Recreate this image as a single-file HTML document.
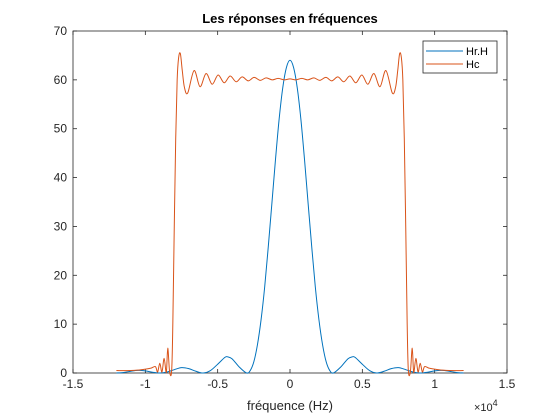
<!DOCTYPE html>
<html><head><meta charset="utf-8"><style>
html,body{margin:0;padding:0;background:#fff;}
svg{display:block;font-family:"Liberation Sans",sans-serif;}
</style></head><body>
<svg id="chart" width="560" height="420" viewBox="0 0 560 420" xmlns="http://www.w3.org/2000/svg">
<rect x="0" y="0" width="560" height="420" fill="#fff"/>
<text x="290" y="23" text-anchor="middle" font-size="13" font-weight="bold" fill="#000">Les réponses en fréquences</text>
<g id="plot"></g>
<text x="290" y="410" text-anchor="middle" font-size="13" fill="#262626">fréquence (Hz)</text>
<text x="474" y="411" font-size="11" fill="#262626">×10<tspan dy="-5" font-size="9">4</tspan></text>
<g>
<rect x="423" y="41" width="74" height="32" fill="#fff" stroke="#262626" stroke-width="0.8"/>
<line x1="426" y1="51" x2="463" y2="51" stroke="#0072BD" stroke-width="1"/>
<text x="466" y="55" font-size="11" fill="#000">Hr.H</text>
<line x1="426" y1="64" x2="463" y2="64" stroke="#D95319" stroke-width="1"/>
<text x="466" y="68" font-size="11" fill="#000">Hc</text>
</g>
</svg>
<script>
const xTicks = [-1.5,-1,-0.5,0,0.5,1,1.5];
const xTickLabels = ["-1.5","-1","-0.5","0","0.5","1","1.5"];
const yTicks = [0,10,20,30,40,50,60,70];
const yTickLabels = ["0","10","20","30","40","50","60","70"];
const hrhF = [-1.2,-1.15,-1.1,-1.05,-1,-0.95,-0.9,-0.85,-0.8,-0.75,-0.7,-0.65,-0.6,-0.55,-0.5,-0.45,-0.43,-0.4,-0.35,-0.3,-0.275,-0.25,-0.225,-0.2,-0.175,-0.15,-0.125,-0.1,-0.075,-0.05,-0.025,0,0.025,0.05,0.075,0.1,0.125,0.15,0.175,0.2,0.225,0.25,0.275,0.3,0.35,0.4,0.43,0.45,0.5,0.55,0.6,0.65,0.7,0.75,0.8,0.85,0.9,0.95,1,1.05,1.1,1.15,1.2];
const hrhV = [0,0.11,0.36,0.53,0.44,0.16,0,0.2,0.68,1.1,0.9,0.35,0,0.5,1.8,3.2,3.3,2.9,1.2,0,0.5,2.3,5.8,10.9,17.6,25.9,34.8,43.8,52,58.4,62.5,64,62.5,58.4,52,43.8,34.8,25.9,17.6,10.9,5.8,2.3,0.5,0,1.2,2.9,3.3,3.2,1.8,0.5,0,0.35,0.9,1.1,0.68,0.2,0,0.16,0.44,0.53,0.36,0.11,0];
const hcF = [-1.2,-1.1,-1.05,-1.0,-0.96,-0.93,-0.915,-0.9,-0.885,-0.87,-0.855,-0.845,-0.832,-0.818,-0.81,-0.8,-0.79,-0.78,-0.77,-0.758,-0.745,-0.73,-0.707,-0.663,-0.622,-0.58,-0.538,-0.497,-0.455,-0.414,-0.372,-0.331,-0.289,-0.248,-0.206,-0.165,-0.123,-0.082,-0.04,0,0.04,0.082,0.123,0.165,0.206,0.248,0.289,0.331,0.372,0.414,0.455,0.497,0.538,0.58,0.622,0.663,0.707,0.73,0.745,0.758,0.77,0.78,0.79,0.8,0.81,0.818,0.832,0.845,0.855,0.87,0.885,0.9,0.915,0.93,0.96,1.0,1.05,1.1,1.2];
const hcV = [0.5,0.5,0.6,0.8,1.0,1.3,0.2,2.0,0.2,3.0,0.1,5.1,0.2,0.5,10,30,48,60,64.5,65.4,62,58.5,57.3,61.9,58.6,61.3,59.1,61.0,59.4,60.8,59.6,60.6,59.8,60.5,59.9,60.4,60.0,60.3,60.0,60.2,60.0,60.3,60.0,60.4,59.9,60.5,59.8,60.6,59.6,60.8,59.4,61.0,59.1,61.3,58.6,61.9,57.3,58.5,62,65.4,64.5,60,48,30,10,0.5,0.2,5.1,0.1,3.0,0.2,2.0,0.2,1.3,1.0,0.8,0.6,0.5,0.5];

const L=73,R=507,T=31,B=373;
const X=v=>L+(v+1.5)/3*(R-L);
const Y=v=>B-v/70*(B-T);
const NS="http://www.w3.org/2000/svg";
const g=document.getElementById('plot');
function mk(tag,attrs){const e=document.createElementNS(NS,tag);for(const k in attrs)e.setAttribute(k,attrs[k]);g.appendChild(e);return e;}

const box=mk('rect',{x:L,y:T,width:R-L,height:B-T,fill:'#fff',stroke:'#262626','stroke-width':0.8});



xTicks.forEach((t,i)=>{
  const x=X(t);
  const a=mk('line',{x1:x,y1:B,x2:x,y2:B-4,stroke:'#262626','stroke-width':0.8});
  
  
  const b=mk('line',{x1:x,y1:T,x2:x,y2:T+4,stroke:'#262626','stroke-width':0.8});
  
  
  const tx=mk('text',{x:x,y:B+15,'text-anchor':'middle','font-size':12,fill:'#262626'});
  tx.textContent=xTickLabels[i];
  
  
});
yTicks.forEach((t,i)=>{
  const y=Y(t);
  const a=mk('line',{x1:L,y1:y,x2:L+4,y2:y,stroke:'#262626','stroke-width':0.8});
  
  
  const b=mk('line',{x1:R,y1:y,x2:R-4,y2:y,stroke:'#262626','stroke-width':0.8});
  
  
  const tx=mk('text',{x:L-6,y:y+4,'text-anchor':'end','font-size':12,fill:'#262626'});
  tx.textContent=yTickLabels[i];
  
  
});

function series(F,V,color,name){
  const P=F.map((f,i)=>[X(f),Y(V[i])]);
  let d='M'+P[0][0].toFixed(2)+' '+P[0][1].toFixed(2);
  for(let i=0;i<P.length-1;i++){
    const p0=P[Math.max(0,i-1)],p1=P[i],p2=P[i+1],p3=P[Math.min(P.length-1,i+2)];
    const c1=[p1[0]+(p2[0]-p0[0])/6,p1[1]+(p2[1]-p0[1])/6];
    const c2=[p2[0]-(p3[0]-p1[0])/6,p2[1]-(p3[1]-p1[1])/6];
    d+=' C'+c1.map(v=>v.toFixed(2)).join(' ')+' '+c2.map(v=>v.toFixed(2)).join(' ')+' '+p2[0].toFixed(2)+' '+p2[1].toFixed(2);
  }
  const p=mk('path',{d:d,fill:'none',stroke:color,'stroke-width':1,'stroke-linejoin':'round'});
  
  
}
series(hrhF,hrhV,'#0072BD','series-hrh-line');
series(hcF,hcV,'#D95319','series-hc-line');
</script>
</body></html>
